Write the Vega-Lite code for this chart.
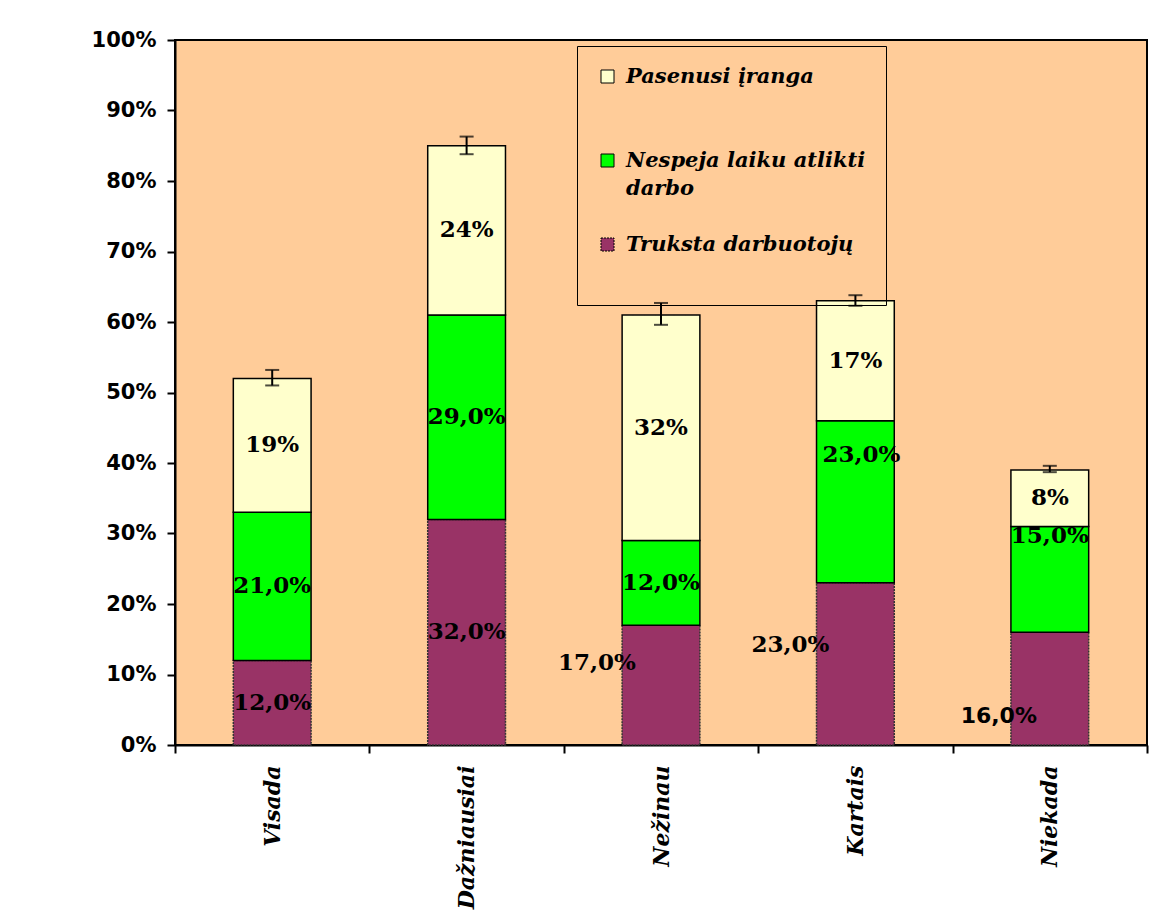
{
  "$schema": "https://vega.github.io/schema/vega-lite/v6.json",
  "width": 972,
  "height": 705,
  "autosize": "none",
  "padding": {"left": 175, "top": 40, "right": 3, "bottom": 178},
  "background": "white",
  "config": {
    "view": {"fill": "#FFCC99", "stroke": "black", "strokeWidth": 2},
    "axis": {"domainColor": "black", "domainWidth": 2, "tickColor": "black", "tickWidth": 2, "grid": false, "labelColor": "black", "title": null}
  },
  "datasets": {
    "causes": [
      {"cat": "Visada", "cause": "Truksta darbuotojų", "value": 12},
      {"cat": "Visada", "cause": "Nespeja laiku atlikti darbo", "value": 21},
      {"cat": "Visada", "cause": "Pasenusi įranga", "value": 19},
      {"cat": "Dažniausiai", "cause": "Truksta darbuotojų", "value": 32},
      {"cat": "Dažniausiai", "cause": "Nespeja laiku atlikti darbo", "value": 29},
      {"cat": "Dažniausiai", "cause": "Pasenusi įranga", "value": 24},
      {"cat": "Nežinau", "cause": "Truksta darbuotojų", "value": 17},
      {"cat": "Nežinau", "cause": "Nespeja laiku atlikti darbo", "value": 12},
      {"cat": "Nežinau", "cause": "Pasenusi įranga", "value": 32},
      {"cat": "Kartais", "cause": "Truksta darbuotojų", "value": 23},
      {"cat": "Kartais", "cause": "Nespeja laiku atlikti darbo", "value": 23},
      {"cat": "Kartais", "cause": "Pasenusi įranga", "value": 17},
      {"cat": "Niekada", "cause": "Truksta darbuotojų", "value": 16},
      {"cat": "Niekada", "cause": "Nespeja laiku atlikti darbo", "value": 15},
      {"cat": "Niekada", "cause": "Pasenusi įranga", "value": 8}
    ],
    "errors": [
      {"cat": "Visada", "low": 51.0, "high": 53.2},
      {"cat": "Dažniausiai", "low": 83.8, "high": 86.3},
      {"cat": "Nežinau", "low": 59.6, "high": 62.7},
      {"cat": "Kartais", "low": 62.3, "high": 63.8},
      {"cat": "Niekada", "low": 38.7, "high": 39.6}
    ]
  },
  "encoding": {
    "x": {
      "field": "cat",
      "type": "nominal",
      "sort": ["Visada", "Dažniausiai", "Nežinau", "Kartais", "Niekada"],
      "scale": {"paddingInner": 0, "paddingOuter": 0},
      "axis": {
        "tickBand": "extent",
        "tickSize": 8,
        "labelAngle": 270,
        "labelFont": "DejaVu Serif",
        "labelFontWeight": "bold",
        "labelFontStyle": "italic",
        "labelFontSize": 22,
        "labelPadding": 12
      }
    }
  },
  "layer": [
    {
      "data": {"name": "causes"},
      "transform": [
        {"calculate": "indexof(['Truksta darbuotojų','Nespeja laiku atlikti darbo','Pasenusi įranga'], datum.cause)", "as": "rank"},
        {"stack": "value", "groupby": ["cat"], "sort": [{"field": "rank", "order": "ascending"}], "as": ["y0", "y1"]}
      ],
      "mark": {"type": "bar", "width": {"band": 0.4}, "strokeWidth": 1.5},
      "encoding": {
        "y": {
          "field": "y1",
          "type": "quantitative",
          "scale": {"domain": [0, 100], "nice": false},
          "axis": {
            "values": [0, 10, 20, 30, 40, 50, 60, 70, 80, 90, 100],
            "labelExpr": "datum.value + '%'",
            "labelFont": "DejaVu Sans",
            "labelFontWeight": "bold",
            "labelFontSize": 21,
            "tickSize": 8,
            "labelPadding": 11
          }
        },
        "y2": {"field": "y0"},
        "stroke": {
          "condition": {"test": "datum.rank == 0", "value": "#333333"},
          "value": "black"
        },
        "strokeDash": {
          "field": "cause",
          "type": "nominal",
          "scale": {
            "domain": ["Pasenusi įranga", "Nespeja laiku atlikti darbo", "Truksta darbuotojų"],
            "range": [[1, 0], [1, 0], [2, 1]]
          },
          "legend": null
        },
        "color": {
          "field": "cause",
          "type": "nominal",
          "scale": {
            "domain": ["Pasenusi įranga", "Nespeja laiku atlikti darbo", "Truksta darbuotojų"],
            "range": ["#FFFFCC", "#00FF00", "#993366"]
          },
          "legend": {
            "orient": "none",
            "legendX": 402,
            "legendY": 6,
            "title": " ",
            "titleOrient": "bottom",
            "titleFontSize": 20,
            "titlePadding": 10,
            "padding": 20,
            "strokeColor": "black",
            "symbolType": "square",
            "symbolSize": 169,
            "symbolStrokeColor": "black",
            "symbolStrokeWidth": 1,
            "symbolOpacity": 1,
            "labelFont": "DejaVu Serif",
            "labelFontWeight": "bold",
            "labelFontStyle": "italic",
            "labelFontSize": 21,
            "labelColor": "black",
            "labelLimit": 400,
            "labelOffset": 8,
            "rowPadding": 34,
            "labelExpr": "datum.label == 'Nespeja laiku atlikti darbo' ? ['Nespeja laiku atlikti', 'darbo'] : datum.label == 'Pasenusi įranga' ? ['Pasenusi įranga', ' '] : datum.label",
            "encode": {"labels": {"update": {"lineHeight": {"value": 28}}}}
          }
        }
      }
    },
    {
      "data": {"name": "errors"},
      "mark": {"type": "rule", "color": "black", "strokeWidth": 2},
      "encoding": {
        "y": {"field": "low", "type": "quantitative"},
        "y2": {"field": "high"}
      }
    },
    {
      "data": {"name": "errors"},
      "mark": {"type": "tick", "color": "black", "thickness": 2, "size": 14},
      "encoding": {"y": {"field": "low", "type": "quantitative"}}
    },
    {
      "data": {"name": "errors"},
      "mark": {"type": "tick", "color": "black", "thickness": 2, "size": 14},
      "encoding": {"y": {"field": "high", "type": "quantitative"}}
    },
    {
      "data": {"name": "causes"},
      "transform": [
        {"calculate": "indexof(['Truksta darbuotojų','Nespeja laiku atlikti darbo','Pasenusi įranga'], datum.cause)", "as": "rank"},
        {"stack": "value", "groupby": ["cat"], "sort": [{"field": "rank", "order": "ascending"}], "as": ["y0", "y1"]},
        {"calculate": "(datum.y0 + datum.y1) / 2", "as": "mid"},
        {"calculate": "datum.cause == 'Pasenusi įranga' ? datum.value + '%' : datum.value + ',0%'", "as": "label"},
        {"calculate": "datum.cat + '|' + datum.rank", "as": "key"}
      ],
      "layer": [
        {
          "transform": [{"filter": "indexof(['Nežinau|0','Kartais|0','Niekada|0','Niekada|1','Kartais|1'], datum.key) < 0"}],
          "mark": {"type": "text", "font": "DejaVu Serif", "fontWeight": "bold", "fontSize": 23, "color": "black"}
        },
        {
          "transform": [{"filter": "datum.key == 'Nežinau|0'"}],
          "mark": {"type": "text", "font": "DejaVu Serif", "fontWeight": "bold", "fontSize": 23, "color": "black", "dx": -64, "dy": -22}
        },
        {
          "transform": [{"filter": "datum.key == 'Kartais|0'"}],
          "mark": {"type": "text", "font": "DejaVu Serif", "fontWeight": "bold", "fontSize": 23, "color": "black", "dx": -65, "dy": -19}
        },
        {
          "transform": [{"filter": "datum.key == 'Niekada|0'"}],
          "mark": {"type": "text", "font": "DejaVu Sans", "fontWeight": "bold", "fontSize": 22, "color": "black", "dx": -51, "dy": 27}
        },
        {
          "transform": [{"filter": "datum.key == 'Niekada|1'"}],
          "mark": {"type": "text", "font": "DejaVu Serif", "fontWeight": "bold", "fontSize": 23, "color": "black", "dy": -43}
        },
        {
          "transform": [{"filter": "datum.key == 'Kartais|1'"}],
          "mark": {"type": "text", "font": "DejaVu Serif", "fontWeight": "bold", "fontSize": 23, "color": "black", "dx": 6, "dy": -47}
        }
      ],
      "encoding": {
        "y": {"field": "mid", "type": "quantitative"},
        "text": {"field": "label"}
      }
    }
  ]
}
